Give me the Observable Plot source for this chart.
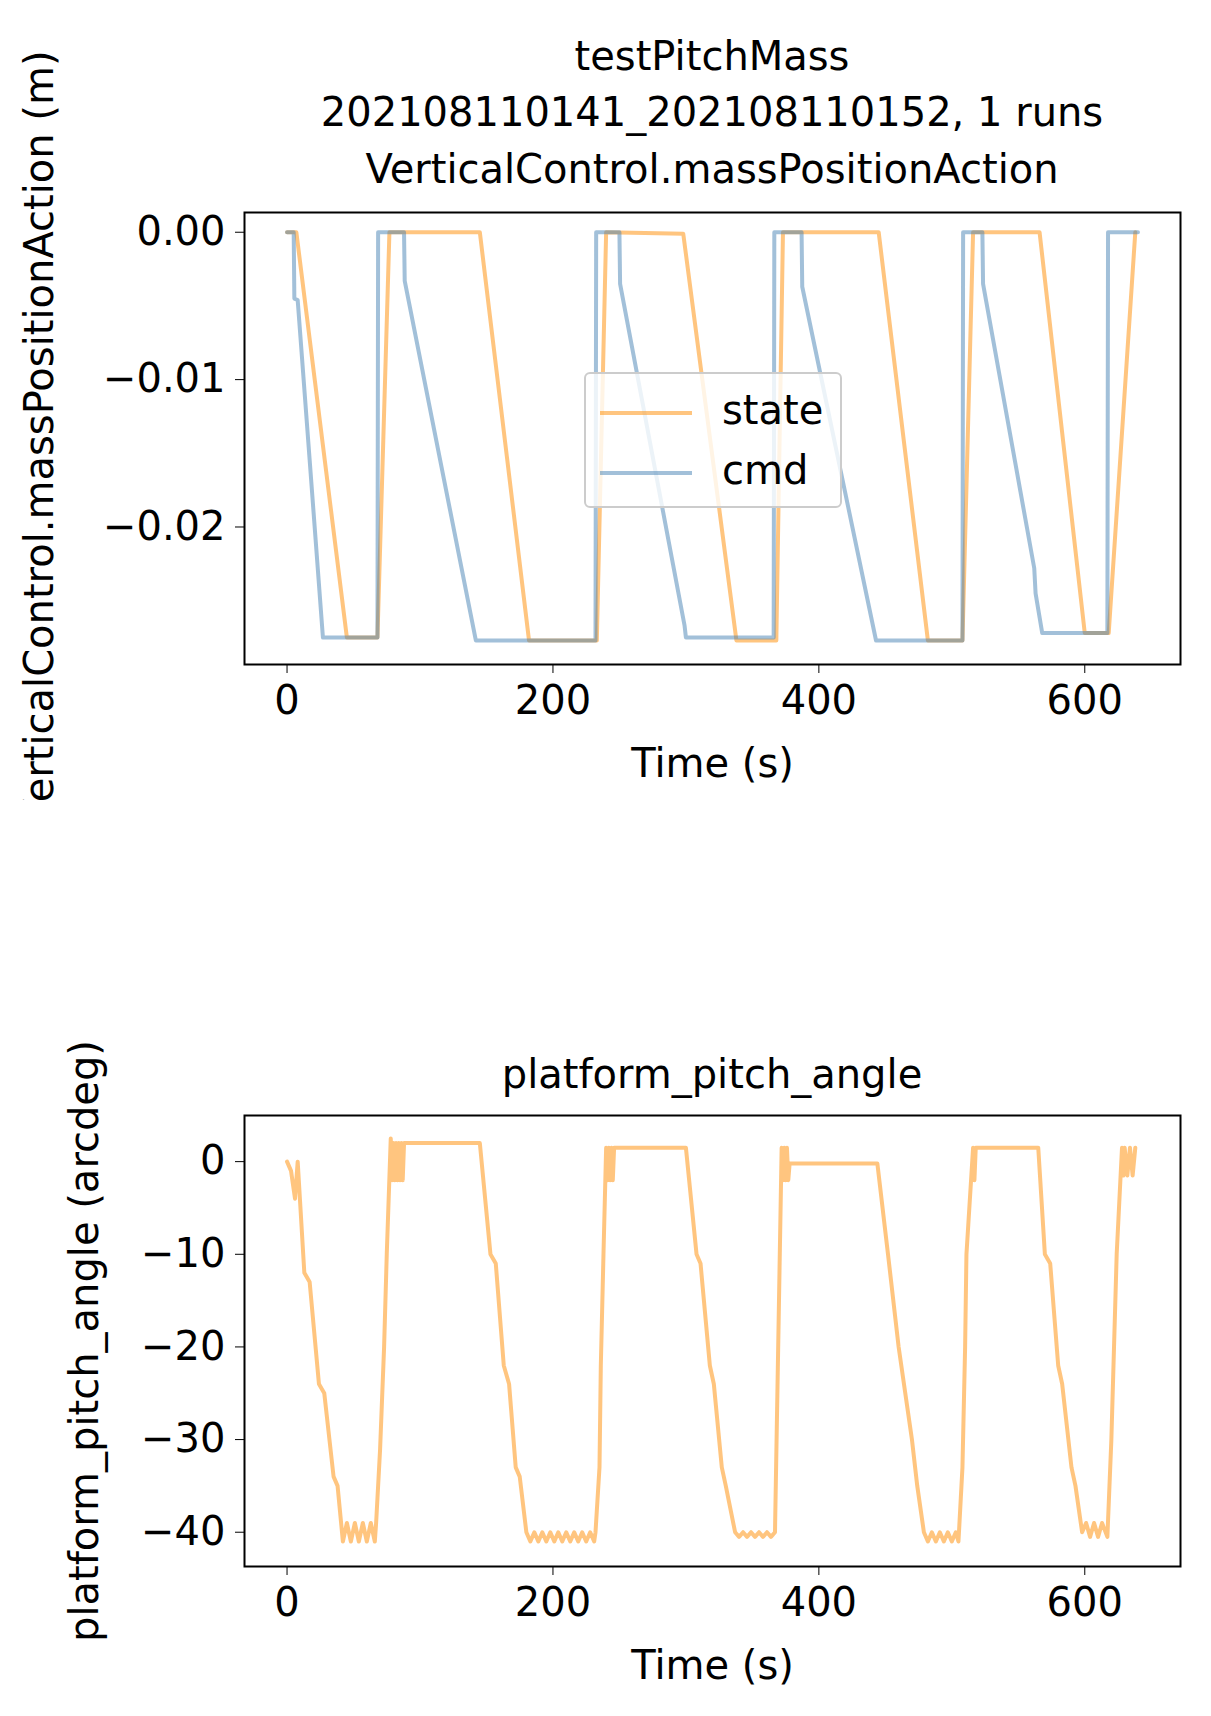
<!DOCTYPE html>
<html><head><meta charset="utf-8">
<script src="https://cdn.jsdelivr.net/npm/d3@7"></script>
<script src="https://cdn.jsdelivr.net/npm/@observablehq/plot@0.6"></script>
<style>
body{margin:0;background:#fff;font-family:"DejaVu Sans",sans-serif;}
#wrap{position:relative;width:1211px;height:1716px;}
.t{position:absolute;z-index:5;left:244px;width:936px;text-align:center;font-size:40px;line-height:1;color:#000;white-space:nowrap;}
.p{position:absolute;left:0;}
#legend{position:absolute;z-index:5;left:584px;top:372px;width:254px;height:132px;border:2px solid #ccc;border-radius:6px;background:rgba(255,255,255,0.8);font-size:40px;}
#legend div{position:absolute;left:14px;line-height:1;}
#legend span{display:inline-block;width:92px;height:4px;vertical-align:middle;margin-right:30px;}
</style></head><body>
<div id="wrap">
<div class="t" style="top:36px">testPitchMass</div>
<div class="t" style="top:92px">202108110141_202108110152, 1 runs</div>
<div class="t" style="top:149px">VerticalControl.massPositionAction</div>
<div class="t" style="top:1054px">platform_pitch_angle</div>
<div class="p" id="c1" style="top:0"></div>
<div class="p" id="c2" style="top:900px"></div>
<div id="legend">
<div style="top:16px"><span style="background:#ff8c00;opacity:.5"></span>state</div>
<div style="top:76px"><span style="background:#4682b4;opacity:.5"></span>cmd</div>
</div>
</div>
<script>
const cmdT = [0,5,5.5,8,27,68,68.5,88,88.5,142,232,232.5,250,250.5,299,300,366,366.5,387,387.5,443,508,508.5,523,523.5,562,563,568,617,617.5,640];
const cmdV = [0,0,-0.0045,-0.0046,-0.0275,-0.0275,0,0,-0.0033,-0.0277,-0.0277,0,0,-0.0035,-0.0267,-0.0275,-0.0275,0,0,-0.0037,-0.0277,-0.0277,0,0,-0.0035,-0.0228,-0.0245,-0.0272,-0.0272,0,0];
const stateT = [0,7,45,68,77,145,182,233,240,298,338,368,373,445,482,508,516,566,600,618,638];
const stateV = [0,0,-0.0275,-0.0275,0,0,-0.0277,-0.0277,0,-0.0001,-0.0277,-0.0277,0,0,-0.0277,-0.0277,0,0,-0.0272,-0.0272,0];
const pitchT = [0,3,6,8,13,17,24,28,35,38,42,45,48,51,54,57,60,63,66,67,70,73,75,78,79,80,81,82,83,84,85,86,87,88,145,153,157,163,167,172,175,180,183,186,189,192,195,198,201,204,207,210,213,216,219,222,225,228,231,232,235,236,238,240,241,242,243,244,245,246,248,300,308,311,318,321,327,330,337,340,343,346,349,352,355,358,361,364,367,372,373,374,375,376,377,378,380,444,452,460,470,474,479,482,485,488,491,494,497,500,503,505,508,510,511,516,517,518,565,570,574,580,583,590,593,598,601,604,607,610,613,617,620,622,624,628,629,630,632,634,636,638];
const pitchV = [0,-1,-4,0,-12,-13,-24,-25,-34,-35,-41,-39,-41,-39,-41,-39,-41,-39,-41,-39,-31,-20,-10,2.5,-2,2,-2,2,-2,2,-2,2,-2,2,2,-10,-11,-22,-24,-33,-34,-40,-41,-40,-41,-40,-41,-40,-41,-40,-41,-40,-41,-40,-41,-40,-41,-40,-41,-40,-33,-22,-10,1.5,-2,1.5,-2,1.5,-2,1.5,1.5,1.5,-10,-11,-22,-24,-33,-35,-40,-40.5,-40,-40.5,-40,-40.5,-40,-40.5,-40,-40.5,-40,1.5,-2,1.5,-2,1.5,-2,-0.2,-0.2,-0.2,-10,-20,-30,-35,-40,-41,-40,-41,-40,-41,-40,-41,-40,-41,-33,-20,-10,1.5,-2,1.5,1.5,-10,-11,-22,-24,-33,-35,-40,-39,-40.5,-39,-40.5,-39,-40.5,-30,-20,-10,1.5,-1.5,1.5,-1.5,1.5,-1.5,1.5];
const xTicks = [0,200,400,600];

const orange = "#ff8c00", blue = "#4682b4";
const common = {
  width: 1211, marginLeft: 244, marginRight: 31,
  style: {fontFamily: "DejaVu Sans", fontSize: "40px", color: "#000", background: "transparent"},
  x: {domain: [-32, 672], ticks: xTicks, tickSize: 9, tickPadding: 12, label: "Time (s)", labelAnchor: "center", labelArrow: "none", labelOffset: 112}
};
const cmd = cmdT.map((t, i) => ({t, v: cmdV[i]}));
const state = stateT.map((t, i) => ({t, v: stateV[i]}));
const pitch = pitchT.map((t, i) => ({t, v: pitchV[i]}));

const c1 = Plot.plot({
  ...common, height: 800, marginTop: 212, marginBottom: 136,
  y: {domain: [-0.02933, 0.00134], ticks: [0, -0.01, -0.02], tickFormat: d => d3.format(".2f")(d).replace("-", "\u2212"), tickSize: 9, tickPadding: 10,
      label: "VerticalControl.massPositionAction (m)", labelAnchor: "center", labelArrow: "none", labelOffset: 220},
  marks: [
    Plot.line(state, {x: "t", y: "v", stroke: orange, strokeOpacity: 0.5, strokeWidth: 4}),
    Plot.line(cmd, {x: "t", y: "v", stroke: blue, strokeOpacity: 0.5, strokeWidth: 4}),
    Plot.frame({stroke: "#000", strokeWidth: 2})
  ]
});
const c2 = Plot.plot({
  ...common, height: 816, marginTop: 215, marginBottom: 150,
  y: {domain: [-43.7, 4.98], ticks: [0, -10, -20, -30, -40], tickFormat: d => String(d).replace("-", "\u2212"), tickSize: 9, tickPadding: 10,
      label: "platform_pitch_angle (arcdeg)", labelAnchor: "center", labelArrow: "none", labelOffset: 175},
  marks: [
    Plot.line(pitch, {x: "t", y: "v", stroke: orange, strokeOpacity: 0.5, strokeWidth: 4}),
    Plot.frame({stroke: "#000", strokeWidth: 2})
  ]
});
document.getElementById("c1").append(c1);
document.getElementById("c2").append(c2);
</script>
</body></html>
